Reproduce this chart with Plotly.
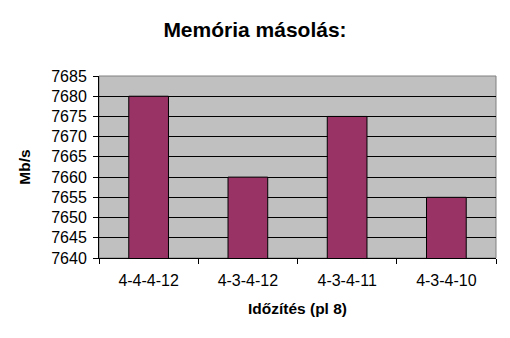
import plotly.graph_objects as go

categories = ["4-4-4-12", "4-3-4-12", "4-3-4-11", "4-3-4-10"]
values = [7680, 7660, 7675, 7655]
y_ticks = [7640, 7645, 7650, 7655, 7660, 7665, 7670, 7675, 7680, 7685]

FONT = "Arial, Liberation Sans, sans-serif"

fig = go.Figure()
fig.add_trace(go.Bar(
    x=categories, y=values,
    marker=dict(color="#993366", line=dict(color="black", width=1)),
))

fig.update_layout(
    width=510, height=338,
    margin=dict(l=99, r=14, t=76, b=80),
    paper_bgcolor="white", plot_bgcolor="#C0C0C0",
    showlegend=False,
    bargap=0.6,
    font=dict(family=FONT, size=16, color="black"),
    title=dict(text="<b>Memória másolás:</b>", x=0.5, xanchor="center",
               y=1 - 30/338, yanchor="middle", font=dict(size=21, family=FONT)),
    xaxis=dict(
        title=dict(text="<b>Időzítés (pl 8)</b>", font=dict(size=15.5), standoff=14),
        showline=True, linecolor="black", linewidth=1,
        ticks="outside", ticklen=5, tickcolor="black", tickson="boundaries",
        ticklabelstandoff=8,
        showgrid=False, tickfont=dict(size=16),
    ),
    yaxis=dict(
        title=dict(text="<b>Mb/s</b>", font=dict(size=15.5), standoff=16),
        range=[7640, 7685], tickvals=y_ticks,
        showline=True, linecolor="black", linewidth=1,
        ticks="outside", ticklen=5, tickcolor="black",
        ticklabelstandoff=3,
        showgrid=True, gridcolor="black", gridwidth=1,
        zeroline=False, tickfont=dict(size=16),
    ),
)
fig.add_shape(type="rect", xref="paper", yref="paper", x0=0, x1=1, y0=0, y1=1,
              line=dict(color="#808080", width=1), layer="below")

fig.write_html("out.html")
